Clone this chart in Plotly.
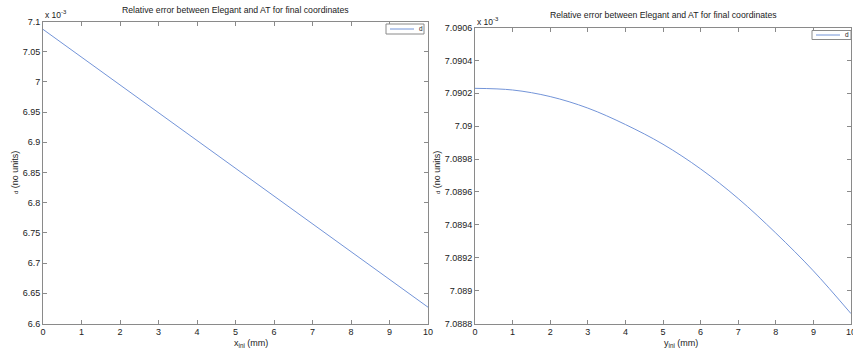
import plotly.graph_objects as go

# data (relative error values in units of 1e-3)
x_ini = [0, 1, 2, 3, 4, 5, 6, 7, 8, 9, 10]
err_x = [7.087, 7.041, 6.995, 6.949, 6.903, 6.857, 6.811, 6.765, 6.719, 6.673, 6.627]
y_ini = [0, 1, 2, 3, 4, 5, 6, 7, 8, 9, 10]
err_y = [7.09023, 7.09022, 7.09018, 7.09011, 7.09001, 7.08989, 7.08974, 7.08956, 7.08935, 7.08912, 7.08886]

left_yticks = [6.6, 6.65, 6.7, 6.75, 6.8, 6.85, 6.9, 6.95, 7.0, 7.05, 7.1]
left_ytext = ["6.6", "6.65", "6.7", "6.75", "6.8", "6.85", "6.9", "6.95", "7", "7.05", "7.1"]
right_yticks = [7.0888, 7.089, 7.0892, 7.0894, 7.0896, 7.0898, 7.09, 7.0902, 7.0904, 7.0906]
right_ytext = ["7.0888", "7.089", "7.0892", "7.0894", "7.0896", "7.0898", "7.09", "7.0902", "7.0904", "7.0906"]
xticks = list(range(0, 11))
legend_label = "d"

title_text = "Relative error between Elegant and AT for final coordinates"
line_color = "#7394d8"
axis_color = "#8a8a8a"
FAM = "Liberation Sans, Arial, sans-serif"
TXT = "#222222"
font = dict(family=FAM, size=9, color=TXT)

W, H = 853, 350
def px_x(p): return p / W
def px_y(p): return 1 - p / H

fig = go.Figure()
fig.add_trace(go.Scatter(x=x_ini, y=err_x, mode="lines", name=legend_label,
                         line=dict(color=line_color, width=1), xaxis="x", yaxis="y",
                         showlegend=False))
fig.add_trace(go.Scatter(x=y_ini, y=err_y, mode="lines", name=legend_label, line_shape="spline",
                         line=dict(color=line_color, width=1), xaxis="x2", yaxis="y2",
                         showlegend=False))

ax_common = dict(showline=True, linecolor=axis_color, linewidth=1, mirror="ticks",
                 ticks="inside", ticklen=4, tickcolor=axis_color, showgrid=False,
                 zeroline=False, tickfont=font, automargin=False, ticklabeloverflow="allow")

fig.update_layout(
    width=W, height=H, margin=dict(l=0, r=0, t=0, b=0, autoexpand=False),
    paper_bgcolor="white", plot_bgcolor="white", font=font,
    xaxis=dict(domain=[px_x(43), px_x(428)], range=[0, 10], tickvals=xticks,
               anchor="y", **ax_common),
    yaxis=dict(domain=[px_y(323.5), px_y(21.5)], range=[6.6, 7.1], tickvals=left_yticks,
               ticktext=left_ytext, anchor="x", **ax_common),
    xaxis2=dict(domain=[px_x(475), px_x(851)], range=[0, 10], tickvals=xticks,
                anchor="y2", **ax_common),
    yaxis2=dict(domain=[px_y(323.5), px_y(27.5)], range=[7.0888, 7.0906], tickvals=right_yticks,
                ticktext=right_ytext, anchor="x2", **ax_common),
    showlegend=False,
)

ann = []
shapes = []
# titles
ann.append(dict(text=title_text, x=px_x(235.5), y=px_y(10), xref="paper", yref="paper",
                xanchor="center", yanchor="middle", showarrow=False,
                font=dict(family=FAM, size=8.7, color=TXT)))
ann.append(dict(text=title_text, x=px_x(663), y=px_y(15.5), xref="paper", yref="paper",
                xanchor="center", yanchor="middle", showarrow=False,
                font=dict(family=FAM, size=8.7, color=TXT)))
# exponent labels
ann.append(dict(text="x 10<sup>-3</sup>", x=px_x(43), y=px_y(15), xref="paper", yref="paper",
                xanchor="left", yanchor="middle", showarrow=False, font=dict(family=FAM, size=8.5, color=TXT)))
ann.append(dict(text="x 10<sup>-3</sup>", x=px_x(475), y=px_y(21), xref="paper", yref="paper",
                xanchor="left", yanchor="middle", showarrow=False, font=dict(family=FAM, size=8.5, color=TXT)))
# y axis labels
for xp in (15, 437):
    ann.append(dict(text="<span style='font-size:6px'>d</span> (no units)", x=px_x(xp), y=px_y(173),
                    xref="paper", yref="paper", textangle=-90, showarrow=False,
                    xanchor="center", yanchor="middle", font=font))
# x axis labels
ann.append(dict(text="x<sub>ini</sub> (mm)", x=px_x(251), y=px_y(343), xref="paper", yref="paper",
                xanchor="center", yanchor="middle", showarrow=False, font=font))
ann.append(dict(text="y<sub>ini</sub> (mm)", x=px_x(681), y=px_y(343), xref="paper", yref="paper",
                xanchor="center", yanchor="middle", showarrow=False, font=font))

# manual legends (box, line sample, label)
for (bx0, by0, bx1, by1) in [(386, 24, 424, 34), (812, 30.5, 851, 39.5)]:
    shapes.append(dict(type="rect", xref="paper", yref="paper",
                       x0=px_x(bx0), x1=px_x(bx1), y0=px_y(by1), y1=px_y(by0),
                       line=dict(color=axis_color, width=1), fillcolor="white"))
    ymid = (by0 + by1) / 2
    shapes.append(dict(type="line", xref="paper", yref="paper",
                       x0=px_x(bx0 + 4), x1=px_x(bx0 + 28), y0=px_y(ymid), y1=px_y(ymid),
                       line=dict(color=line_color, width=1)))
    ann.append(dict(text=legend_label, x=px_x(bx0 + 31), y=px_y(ymid), xref="paper", yref="paper",
                    xanchor="left", yanchor="middle", showarrow=False,
                    font=dict(family=FAM, size=6.5, color=TXT)))

fig.update_layout(annotations=ann, shapes=shapes)

fig.write_html("out.html")
